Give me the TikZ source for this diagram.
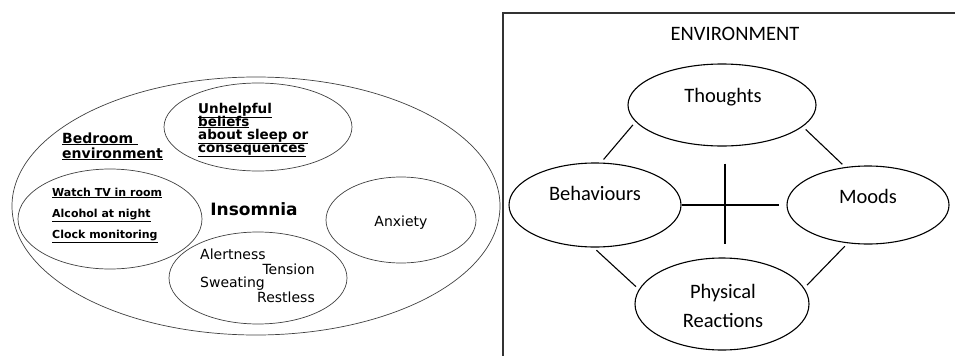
\documentclass[tikz,border=0pt]{standalone}
\usepackage{fontspec}
\setmainfont{DejaVu Sans}
\newfontfamily\calibri{Carlito}
\usetikzlibrary{shapes,positioning}
\newcommand\tightlines{\lineskiplimit=-20pt\relax}

\begin{document}
\begin{tikzpicture}[x=1pt, y=-1pt,
	oval/.style={draw=black!75, line width=0.7pt, ellipse, inner sep=0pt},
	cbtoval/.style={draw, line width=1.1pt, ellipse, inner sep=0pt},
	link/.style={line width=1.1pt, shorten <=4pt, shorten >=4pt},
	txt/.style={inner sep=0pt, font=\fontsize{14}{16}\selectfont},
	bld/.style={inner sep=0pt, align=left, anchor=base west},
	cbt/.style={inner sep=0pt, anchor=base, font=\calibri\fontsize{20.5}{29}\selectfont}]
	\useasboundingbox (0,0) rectangle (955,356);
	\node[oval, minimum width=488pt, minimum height=258pt] (sleep) at (256,206) {};
	\node[oval, minimum width=188pt, minimum height=88pt] (beliefs) at (258,127) {};
	\node[oval, minimum width=184pt, minimum height=100pt] (room) at (110,219) {};
	\node[oval, minimum width=150pt, minimum height=86pt] (anx) at (401,220) {};
	\node[oval, minimum width=178pt, minimum height=92pt] (body) at (258,278) {};
	\node[bld, font=\tightlines\fontsize{13.5}{13}\selectfont\bfseries] (beliefstxt) at (198,152) {\underline{Unhelpful}\\\underline{beliefs}\\\underline{about sleep or}\\\underline{consequences}};
	\node[bld, font=\tightlines\fontsize{14}{15}\selectfont\bfseries] (bedroom) at (62,158) {\underline{Bedroom }\\\underline{environment}};
	\node[bld, font=\fontsize{11}{21}\selectfont\bfseries] (roomtxt) at (52,238) {\underline{Watch TV in room}\\\underline{Alcohol at night}\\\underline{Clock monitoring}};
	\node[inner sep=0pt, anchor=base, font=\fontsize{17}{20}\selectfont\bfseries] (insomnia) at (254,215) {Insomnia};
	\node[txt, anchor=base] (anxtxt) at (401,226) {Anxiety};
	\node[txt, anchor=base west] (alert) at (200,259) {Alertness};
	\node[txt, anchor=base east] (tension) at (315,274) {Tension};
	\node[txt, anchor=base west] (sweat) at (200,287) {Sweating};
	\node[txt, anchor=base east] (restless) at (315,302) {Restless};
	\draw[line width=1.3pt, black!80] (955,13) -- (503,13) -- (503,356);
	\node[cbt] (env) at (735,40) {ENVIRONMENT};
	\node[cbtoval, minimum width=188pt, minimum height=82pt] (th) at (722,105) {};
	\node[cbtoval, minimum width=172pt, minimum height=84pt] (beh) at (595,205) {};
	\node[cbtoval, minimum width=162pt, minimum height=78pt] (moods) at (868,205) {};
	\node[cbtoval, minimum width=174pt, minimum height=92pt] (phys) at (722,304) {};
	\node[cbt] (thtxt) at (723,102) {Thoughts};
	\node[cbt] (behtxt) at (595,200) {Behaviours};
	\node[cbt] (moodstxt) at (868,203) {Moods};
	\node[cbt] (phystxt) at (723,298) {Physical};
	\node[cbt] (reacttxt) at (723,327) {Reactions};
	\draw[link] (th.191) -- (beh.82);
	\draw[link] (th.345) -- (moods.121);
	\draw[link] (beh.268) -- (phys.170);
	\draw[link] (moods.242) -- (phys.11);
	\draw[line width=1.1pt, shorten >=7pt] (beh) -- (moods);
	\draw[line width=1.1pt, shorten <=17pt, shorten >=13pt] ([xshift=3pt]th.south) -- ([xshift=3pt]phys.north);
\end{tikzpicture}
\end{document}
